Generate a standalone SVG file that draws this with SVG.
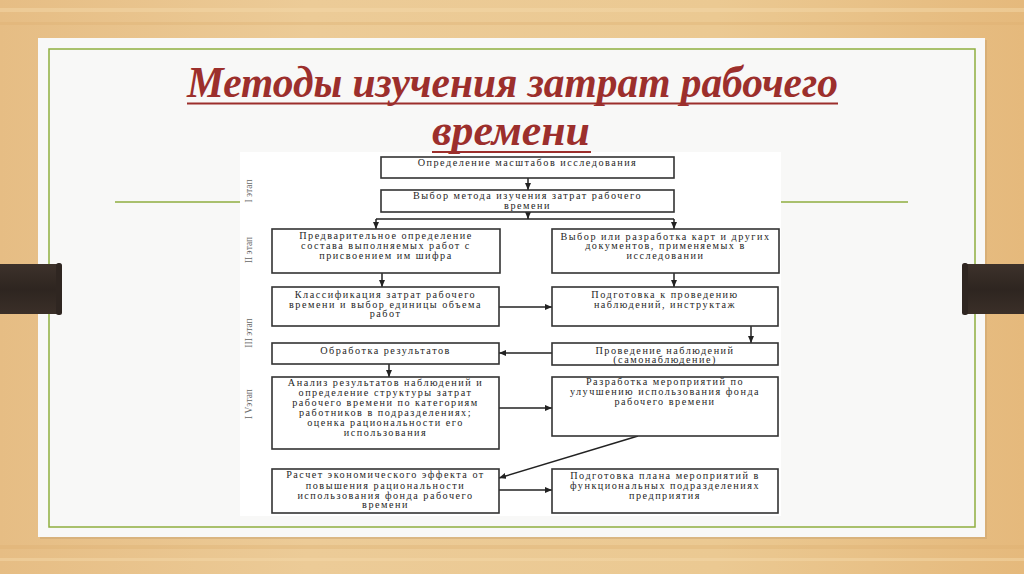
<svg xmlns="http://www.w3.org/2000/svg" width="1024" height="574" viewBox="0 0 1024 574">
<defs>
<linearGradient id="wood" x1="0" y1="0" x2="1" y2="0">
<stop offset="0" stop-color="#e6bd84"/>
<stop offset="0.3" stop-color="#eccb97"/>
<stop offset="0.7" stop-color="#ebc992"/>
<stop offset="1" stop-color="#e5b97c"/>
</linearGradient>
<linearGradient id="bar" x1="0" y1="0" x2="0" y2="1">
<stop offset="0" stop-color="#3d322b"/>
<stop offset="0.5" stop-color="#2e2520"/>
<stop offset="1" stop-color="#3a2f28"/>
</linearGradient>
<marker id="ah" markerWidth="7" markerHeight="6" refX="7" refY="3" orient="auto" markerUnits="userSpaceOnUse">
<path d="M0,0 L7,3 L0,6 z" fill="#222"/>
</marker>
<style>
.box{fill:#fff;stroke:#333;stroke-width:1.6}
.t{font-family:"Liberation Serif","DejaVu Serif",serif;font-size:10.2px;letter-spacing:1.5px;fill:#262626;text-anchor:middle}
.stage{font-family:"Liberation Serif","DejaVu Serif",serif;font-size:9.5px;fill:#666;text-anchor:middle}
.c{fill:none;stroke:#222;stroke-width:1.5}
.title{font-family:"Liberation Serif","DejaVu Serif",serif;font-style:italic;font-weight:bold;font-size:44px;fill:#9c2f2c}
.green{stroke:#8fae3f;stroke-width:1.5;fill:none}
</style>
</defs>
<g id="background">
<rect x="0" y="0" width="1024" height="574" fill="url(#wood)"/>
<rect x="0" y="8" width="1024" height="4" fill="#f3d7a8" opacity="0.5"/>
<rect x="0" y="22" width="1024" height="3" fill="#dcae70" opacity="0.35"/>
<rect x="0" y="545" width="1024" height="4" fill="#dcae70" opacity="0.35"/>
<rect x="0" y="558" width="1024" height="3" fill="#f3d7a8" opacity="0.5"/>
<rect x="40" y="40" width="947" height="499" fill="#c9a46f" opacity="0.5"/>
<rect x="38" y="38" width="947" height="499" fill="#f8f8f7"/>
<rect x="49" y="49" width="926" height="478" class="green"/>
<line x1="115" y1="202" x2="240" y2="202" class="green"/>
<line x1="781" y1="202" x2="908" y2="202" class="green"/>
</g>
<g id="bars">
<rect x="0" y="264" width="59" height="50" fill="url(#bar)"/>
<rect x="56" y="263" width="6" height="52" rx="2.5" fill="#2f2621"/>
<rect x="965" y="264" width="59" height="50" fill="url(#bar)"/>
<rect x="962" y="263" width="6" height="52" rx="2.5" fill="#2f2621"/>
</g>
<g id="chart-area">
<rect x="240" y="152" width="541" height="364" fill="#ffffff"/>
</g>
<g id="title">
<text class="title" x="187" y="97" textLength="651" lengthAdjust="spacingAndGlyphs">Методы изучения затрат рабочего</text>
<line x1="187" y1="103.5" x2="838" y2="103.5" stroke="#9c2f2c" stroke-width="2.2"/>
<text class="title" x="432" y="145" textLength="158" lengthAdjust="spacingAndGlyphs">времени</text>
<line x1="432" y1="152" x2="591" y2="152" stroke="#9c2f2c" stroke-width="2.2"/>
</g>
<g id="stages">
<text class="stage" transform="translate(252,191) rotate(-90)">I этап</text>
<text class="stage" transform="translate(252,250) rotate(-90)">II этап</text>
<text class="stage" transform="translate(252,333) rotate(-90)">III этап</text>
<text class="stage" transform="translate(252,404) rotate(-90)">I Vэтап</text>
</g>
<g id="connectors">
<path class="c" d="M528,178 L528,190" marker-end="url(#ah)"/>
<path class="c" d="M528,212 L528,219" marker-end="url(#ah)"/>
<path class="c" d="M376,219 L674,219"/>
<path class="c" d="M376,219 L376,229" marker-end="url(#ah)"/>
<path class="c" d="M674,219 L674,229" marker-end="url(#ah)"/>
<path class="c" d="M382,273 L382,287" marker-end="url(#ah)"/>
<path class="c" d="M674,273 L674,287" marker-end="url(#ah)"/>
<path class="c" d="M499,307 L552,307" marker-end="url(#ah)"/>
<path class="c" d="M751,326 L751,343" marker-end="url(#ah)"/>
<path class="c" d="M552,353 L499,353" marker-end="url(#ah)"/>
<path class="c" d="M389,364 L389,377" marker-end="url(#ah)"/>
<path class="c" d="M499,408 L552,408" marker-end="url(#ah)"/>
<path class="c" d="M638,436 L499,478" marker-end="url(#ah)"/>
<path class="c" d="M499,490 L552,490" marker-end="url(#ah)"/>
</g>
<g id="n1"><rect class="box" x="381" y="157" width="293" height="21"/>
<text class="t" x="527.5" y="166">Определение масштабов исследования</text></g>
<g id="n2"><rect class="box" x="381" y="190" width="293" height="22"/>
<text class="t" x="527.5" y="199">Выбор метода изучения затрат рабочего</text>
<text class="t" x="527.5" y="209">времени</text></g>
<g id="n3"><rect class="box" x="272" y="229" width="228" height="44"/>
<text class="t" x="386" y="239">Предварительное определение</text>
<text class="t" x="386" y="249">состава выполняемых работ с</text>
<text class="t" x="386" y="259">присвоением им шифра</text></g>
<g id="n4"><rect class="box" x="552" y="229" width="227" height="44"/>
<text class="t" x="665.5" y="240">Выбор или разработка карт и других</text>
<text class="t" x="665.5" y="249">документов, применяемых в</text>
<text class="t" x="665.5" y="259">исследовании</text></g>
<g id="n5"><rect class="box" x="272" y="287" width="227" height="39"/>
<text class="t" x="385.5" y="298">Классификация затрат рабочего</text>
<text class="t" x="385.5" y="307.5">времени и выбор единицы объема</text>
<text class="t" x="385.5" y="317">работ</text></g>
<g id="n6"><rect class="box" x="552" y="287" width="226" height="39"/>
<text class="t" x="665" y="298">Подготовка к проведению</text>
<text class="t" x="665" y="308">наблюдений, инструктаж</text></g>
<g id="n7"><rect class="box" x="552" y="343" width="226" height="22"/>
<text class="t" x="665" y="353.5">Проведение наблюдений</text>
<text class="t" x="665" y="362.5">(самонаблюдение)</text></g>
<g id="n8"><rect class="box" x="272" y="343" width="227" height="21"/>
<text class="t" x="385.5" y="354">Обработка результатов</text></g>
<g id="n9"><rect class="box" x="272" y="377" width="227" height="72"/>
<text class="t" x="385.5" y="386">Анализ результатов наблюдений и</text>
<text class="t" x="385.5" y="396">определение структуры затрат</text>
<text class="t" x="385.5" y="406">рабочего времени по категориям</text>
<text class="t" x="385.5" y="416">работников в подразделениях;</text>
<text class="t" x="385.5" y="426">оценка рациональности его</text>
<text class="t" x="385.5" y="435.5">использования</text></g>
<g id="n10"><rect class="box" x="552" y="377" width="226" height="59"/>
<text class="t" x="665" y="385">Разработка мероприятий по</text>
<text class="t" x="665" y="395">улучшению использования фонда</text>
<text class="t" x="665" y="405">рабочего времени</text></g>
<g id="n11"><rect class="box" x="272" y="469" width="227" height="44"/>
<text class="t" x="385.5" y="478">Расчет экономического эффекта от</text>
<text class="t" x="385.5" y="488.5">повышения рациональности</text>
<text class="t" x="385.5" y="498.5">использования фонда рабочего</text>
<text class="t" x="385.5" y="508">времени</text></g>
<g id="n12"><rect class="box" x="552" y="469" width="226" height="44"/>
<text class="t" x="665" y="479">Подготовка плана мероприятий в</text>
<text class="t" x="665" y="489">функциональных подразделениях</text>
<text class="t" x="665" y="498.5">предприятия</text></g>
</svg>
